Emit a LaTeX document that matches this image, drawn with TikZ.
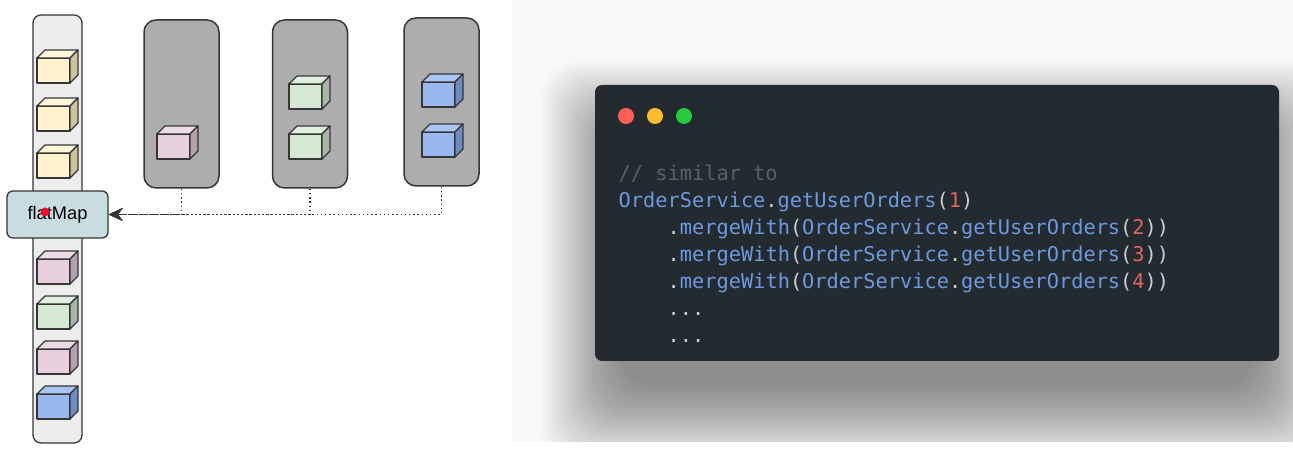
\documentclass[tikz,border=0pt]{standalone}
\usepackage{fontspec}
\setmainfont{Liberation Sans}
\setmonofont{DejaVu Sans Mono}
\usetikzlibrary{arrows.meta}

\definecolor{edge}{HTML}{363636}
\definecolor{colfill}{HTML}{EDEDED}
\definecolor{lanefill}{HTML}{ADADAD}
\definecolor{mapfill}{HTML}{C9DCDF}
\definecolor{yfront}{HTML}{FFF2CC}\definecolor{ytop}{HTML}{FFF6DA}\definecolor{yside}{HTML}{CEC49C}
\definecolor{pfront}{HTML}{E6D0DE}\definecolor{ptop}{HTML}{EDDCE7}\definecolor{pside}{HTML}{B5A1AE}
\definecolor{gfront}{HTML}{D5E8D4}\definecolor{gtop}{HTML}{E1EFE0}\definecolor{gside}{HTML}{A6B7A5}
\definecolor{bfront}{HTML}{99B8F0}\definecolor{btop}{HTML}{AAC5F4}\definecolor{bside}{HTML}{6F8BC3}
\definecolor{panel}{HTML}{F8F8F8}
\definecolor{window}{HTML}{232B31}
\definecolor{cmt}{HTML}{56636C}
\definecolor{kw}{HTML}{6D9ADF}
\definecolor{num}{HTML}{E0675F}
\definecolor{pun}{HTML}{C9CED3}
\definecolor{dotred}{HTML}{FF5F57}
\definecolor{dotamber}{HTML}{FEBC2E}
\definecolor{dotgreen}{HTML}{28C840}
\definecolor{pointer}{HTML}{E8112D}

% cube: x, y (front lower left), front, top, side
\newcommand{\msgcube}[5]{%
  \filldraw[fill=#3,draw=edge,line width=0.013cm,line join=round] (#1,#2) rectangle ++(0.33,0.25);
  \filldraw[fill=#4,draw=edge,line width=0.013cm,line join=round] (#1,#2+0.25) -- ++(0.08,0.08) -- ++(0.33,0) -- ++(-0.08,-0.08) -- cycle;
  \filldraw[fill=#5,draw=edge,line width=0.013cm,line join=round] (#1+0.33,#2) -- ++(0.08,0.08) -- ++(0,0.25) -- ++(-0.08,-0.08) -- cycle;
}
\newcommand{\cdkw}[1]{\textcolor{kw}{#1}}
\newcommand{\cdpu}[1]{\textcolor{pun}{#1}}
\newcommand{\cdnum}[1]{\textcolor{num}{#1}}

\tikzset{
  column/.style={draw=edge,fill=colfill,line width=0.013cm,rounded corners=0.08cm,minimum width=0.49cm,minimum height=4.28cm,inner sep=0},
  lane/.style={draw=edge,fill=lanefill,line width=0.015cm,rounded corners=0.12cm,minimum width=0.75cm,minimum height=1.68cm,inner sep=0},
  mapbox/.style={draw=edge,fill=mapfill,line width=0.013cm,rounded corners=0.06cm,minimum width=1.01cm,minimum height=0.47cm,inner sep=0,font=\fontsize{5.2pt}{6pt}\selectfont},
  flow/.style={draw=edge,line width=0.013cm,dash pattern=on 0.014cm off 0.028cm,-{Stealth[length=0.14cm,width=0.13cm,inset=0.045cm]}},
  codeline/.style={anchor=base west,inner sep=0,font=\ttfamily\fontsize{5.78pt}{7pt}\selectfont},
}

\begin{document}
\begin{tikzpicture}
  \useasboundingbox (0,0) rectangle (12.93,4.54);
  % code window with its shadow
  \fill[panel] (5.12,0.12) rectangle (12.93,4.54);
  \begin{scope}
    \clip (5.12,0.12) rectangle (12.93,4.54);
    \foreach \k in {0,...,39}
      \fill[black,opacity=0.013,rounded corners=0.35cm] (6.20-0.02*\k,0.68-0.02*\k) rectangle (12.54+0.02*\k,3.14+0.02*\k);
  \end{scope}
  \fill[window,rounded corners=0.07cm] (5.95,0.93) rectangle (12.79,3.69);
  \fill[dotred] (6.26,3.38) circle (0.08);
  \fill[dotamber] (6.55,3.38) circle (0.08);
  \fill[dotgreen] (6.84,3.38) circle (0.08);
  \node[codeline] (l1) at (6.18,2.73) {\textcolor{cmt}{// similar to}};
  \node[codeline] (l2) at (6.18,2.46) {\cdkw{OrderService}\cdpu{.}\cdkw{getUserOrders}\cdpu{(}\cdnum{1}\cdpu{)}};
  \node[codeline] (l3) at (6.67,2.19) {\cdpu{.}\cdkw{mergeWith}\cdpu{(}\cdkw{OrderService}\cdpu{.}\cdkw{getUserOrders}\cdpu{(}\cdnum{2}\cdpu{))}};
  \node[codeline] (l4) at (6.67,1.92) {\cdpu{.}\cdkw{mergeWith}\cdpu{(}\cdkw{OrderService}\cdpu{.}\cdkw{getUserOrders}\cdpu{(}\cdnum{3}\cdpu{))}};
  \node[codeline] (l5) at (6.67,1.65) {\cdpu{.}\cdkw{mergeWith}\cdpu{(}\cdkw{OrderService}\cdpu{.}\cdkw{getUserOrders}\cdpu{(}\cdnum{4}\cdpu{))}};
  \node[codeline] (l6) at (6.67,1.38) {\cdpu{...}};
  \node[codeline] (l7) at (6.67,1.11) {\cdpu{...}};

  % merged stream
  \node[column] (col) at (0.575,2.25) {};
  \msgcube{0.37}{3.71}{yfront}{ytop}{yside}
  \msgcube{0.37}{3.23}{yfront}{ytop}{yside}
  \msgcube{0.37}{2.76}{yfront}{ytop}{yside}
  \msgcube{0.37}{1.70}{pfront}{ptop}{pside}
  \msgcube{0.37}{1.25}{gfront}{gtop}{gside}
  \msgcube{0.37}{0.80}{pfront}{ptop}{pside}
  \msgcube{0.37}{0.35}{bfront}{btop}{bside}

  % inner streams
  \node[lane] (p1) at (1.815,3.50) {};
  \node[lane] (p2) at (3.100,3.50) {};
  \node[lane] (p3) at (4.415,3.52) {};
  \msgcube{1.57}{2.95}{pfront}{ptop}{pside}
  \msgcube{2.89}{3.45}{gfront}{gtop}{gside}
  \msgcube{2.89}{2.95}{gfront}{gtop}{gside}
  \msgcube{4.22}{3.47}{bfront}{btop}{bside}
  \msgcube{4.22}{2.97}{bfront}{btop}{bside}

  \node[mapbox] (flatmap) at (0.575,2.395) {flatMap};
  \fill[pointer] (0.45,2.42) circle (0.045);
  \draw[flow] (p1.south) |- (flatmap.east);
  \draw[flow] (p2.south) |- (flatmap.east);
  \draw[flow] (p3.south) |- (flatmap.east);
\end{tikzpicture}
\end{document}
